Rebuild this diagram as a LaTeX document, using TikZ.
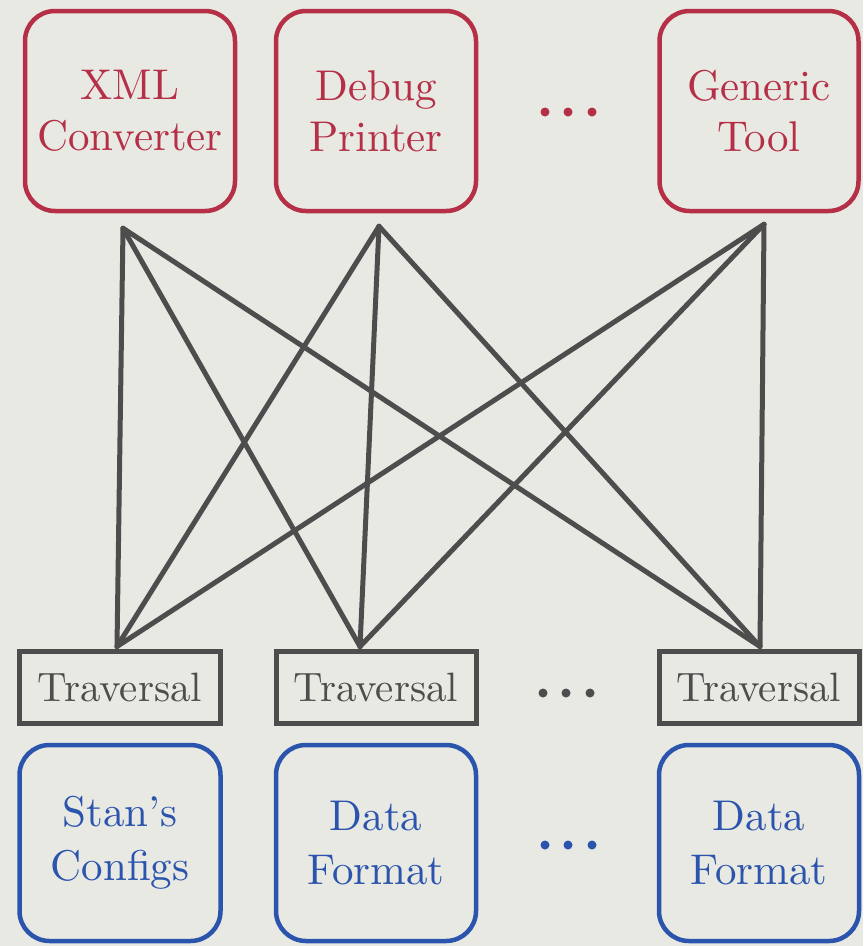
\documentclass[tikz,border=0pt]{standalone}
\usepackage{fontspec}
\setmainfont{lmroman10-regular.otf}
\usetikzlibrary{calc}
\definecolor{bg}{RGB}{233,233,228}
\definecolor{toolred}{RGB}{181,48,70}
\definecolor{fmtblue}{RGB}{43,84,172}
\definecolor{wire}{RGB}{77,77,77}
\begin{document}
\begin{tikzpicture}[x=1pt,y=-1pt,
  toolbox/.style={draw=toolred, line width=4.5pt, rounded corners=30pt,
    minimum width=#1, minimum height=200pt, inner sep=0pt,
    text=toolred, align=center, font=\fontsize{43}{51}\selectfont},
  travbox/.style={draw=wire, line width=5pt, minimum width=#1,
    minimum height=72pt, inner sep=0pt, text=wire,
    font=\fontsize{41}{48}\selectfont},
  fmtbox/.style={draw=fmtblue, line width=4.5pt, rounded corners=30pt,
    minimum width=#1, minimum height=196pt, inner sep=0pt,
    text=fmtblue, align=center, font=\fontsize{43}{54}\selectfont},
  link/.style={draw=wire, line width=5pt, line cap=round, line join=round},
  dot/.style={circle, fill=#1, inner sep=0pt, minimum size=9pt}]

% canvas
\fill[bg] (0,0) rectangle (863,946);
\useasboundingbox (0,0) rectangle (863,946);

% tools
\node[toolbox=210pt] (tool1) at (130,111) {XML\\Converter};
\node[toolbox=200pt] (tool2) at (376,111) {Debug\\Printer};
\node[toolbox=199pt] (tool3) at (759,111) {Generic\\Tool};
\node[dot=toolred] (td1) at (545,112) {};
\node[dot=toolred] (td2) at (568,112) {};
\node[dot=toolred] (td3) at (592,112) {};

% traversals
\node[travbox=201pt] (trav1) at (120,687) {Traversal};
\node[travbox=200pt] (trav2) at (376,687) {Traversal};
\node[travbox=200pt] (trav3) at (759,687) {Traversal};
\node[dot=wire] (vd1) at (543,693) {};
\node[dot=wire] (vd2) at (566,693) {};
\node[dot=wire] (vd3) at (590,693) {};

% data formats
\node[fmtbox=201pt] (fmt1) at (120,843) {Stan’s\\Configs};
\node[fmtbox=200pt] (fmt2) at (376,843) {Data\\Format};
\node[fmtbox=200pt] (fmt3) at (759,843) {Data\\Format};
\node[dot=fmtblue] (fd1) at (545,845) {};
\node[dot=fmtblue] (fd2) at (568,845) {};
\node[dot=fmtblue] (fd3) at (592,845) {};

% wiring: every tool reaches every traversal
\coordinate (t1) at ($(tool1.south)+(-7,15)$);
\coordinate (t2) at ($(tool2.south)+(3,13)$);
\coordinate (t3) at ($(tool3.south)+(5,11)$);
\coordinate (b1) at ($(trav1.north)+(-3,-2)$);
\coordinate (b2) at ($(trav2.north)+(-16,-2)$);
\coordinate (b3) at ($(trav3.north)+(1,-2)$);
\foreach \t in {t1,t2,t3}
  \foreach \b in {b1,b2,b3}
    \draw[link] (\t) -- (\b);
\end{tikzpicture}
\end{document}
